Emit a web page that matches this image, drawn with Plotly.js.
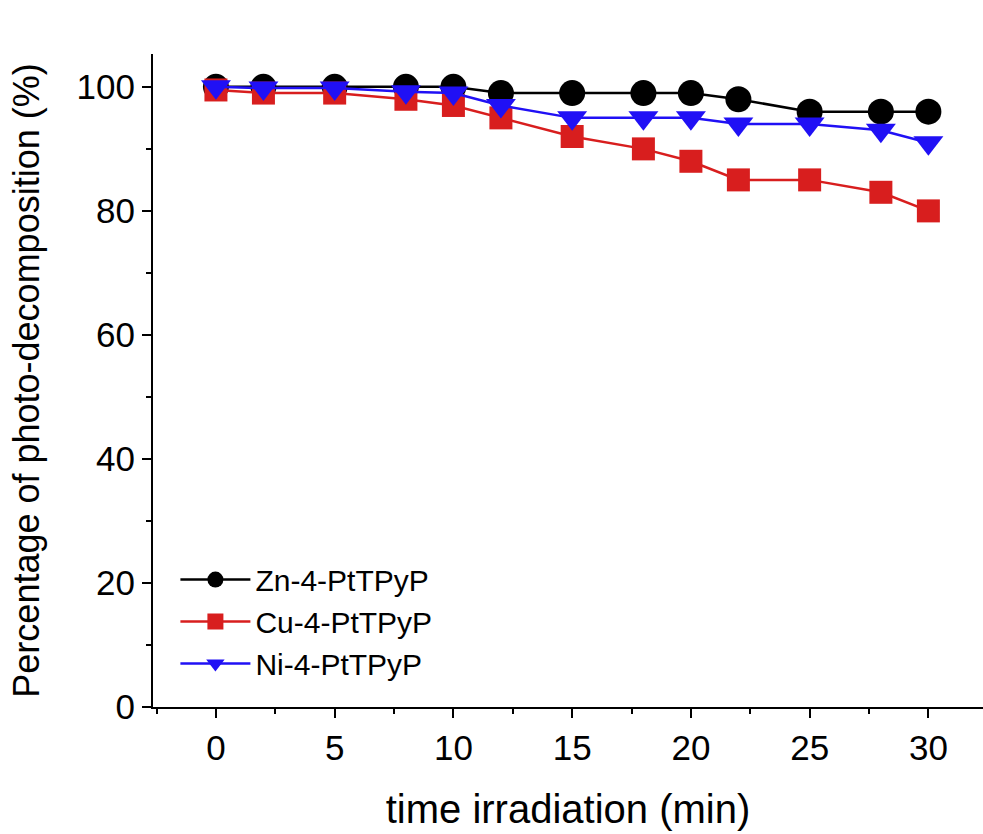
<!DOCTYPE html>
<html>
<head>
<meta charset="utf-8">
<script src="https://cdn.plot.ly/plotly-3.0.1.min.js"></script>
<style>html,body{margin:0;padding:0;background:#fff;}#chart{width:983px;height:834px;}</style>
</head>
<body>
<div id="chart"></div>
<script>
const timeMin = [0, 2, 5, 8, 10, 12, 15, 18, 20, 22, 25, 28, 30];
const seriesNames = ["Zn-4-PtTPyP", "Cu-4-PtTPyP", "Ni-4-PtTPyP"];
const znValues = [100, 100, 100, 100, 100, 99, 99, 99, 99, 98, 96, 96, 96];
const cuValues = [99.5, 99, 99, 98, 97, 95, 92, 90, 88, 85, 85, 83, 80];
const niValues = [100, 99.8, 99.8, 99.2, 99, 97, 95, 95, 95, 94, 94, 93, 91];
const xTickVals = [0, 5, 10, 15, 20, 25, 30];
const yTickVals = [0, 20, 40, 60, 80, 100];

const font = "Liberation Sans, Arial, sans-serif";
const traces = [
  {x: timeMin, y: znValues, name: seriesNames[0], mode: "lines+markers",
   line: {color: "#000000", width: 2.5},
   marker: {symbol: "circle", size: 26, color: "#000000"}},
  {x: timeMin, y: cuValues, name: seriesNames[1], mode: "lines+markers",
   line: {color: "#d81e1e", width: 2.5},
   marker: {symbol: "square", size: 23, color: "#d81e1e"}},
  {x: timeMin, y: niValues, name: seriesNames[2], mode: "lines+markers",
   line: {color: "#2010f5", width: 2.5},
   marker: {symbol: "triangle-down", size: 26, color: "#2010f5"}}
];

const layout = {
  width: 983, height: 834,
  margin: {l: 153, r: 0, t: 54, b: 127},
  paper_bgcolor: "#ffffff", plot_bgcolor: "#ffffff",
  font: {family: font, color: "#000", size: 34},
  showlegend: true,
  legend: {x: 0.027, y: 0.235, xanchor: "left", yanchor: "top",
           font: {family: font, size: 30, color: "#000"},
           bgcolor: "rgba(0,0,0,0)", itemwidth: 70, tracegroupgap: 0},
  xaxis: {
    range: [-2.65, 32.3], showgrid: false, zeroline: false,
    showline: true, linecolor: "#000", linewidth: 2,
    ticks: "outside", ticklen: 9, tickwidth: 2, tickcolor: "#000",
    tickvals: xTickVals, ticktext: xTickVals.map(String),
    tickfont: {family: font, size: 35},
    minor: {dtick: 2.5, tick0: 0, ticks: "outside", ticklen: 5, tickwidth: 2, tickcolor: "#000", showgrid: false},
    title: {text: "time irradiation (min)", font: {family: font, size: 40}, standoff: 29}
  },
  yaxis: {
    range: [0, 105.3], showgrid: false, zeroline: false,
    showline: true, linecolor: "#000", linewidth: 2,
    ticks: "outside", ticklen: 9, tickwidth: 2, tickcolor: "#000",
    tickvals: yTickVals, ticktext: yTickVals.map(String),
    tickfont: {family: font, size: 35},
    minor: {dtick: 10, tick0: 0, ticks: "outside", ticklen: 5, tickwidth: 2, tickcolor: "#000", showgrid: false},
    title: {text: "Percentage of photo-decomposition (%)", font: {family: font, size: 36}, standoff: 26}
  }
};

Plotly.newPlot("chart", traces, layout, {displayModeBar: false, staticPlot: true});
</script>
</body>
</html>
